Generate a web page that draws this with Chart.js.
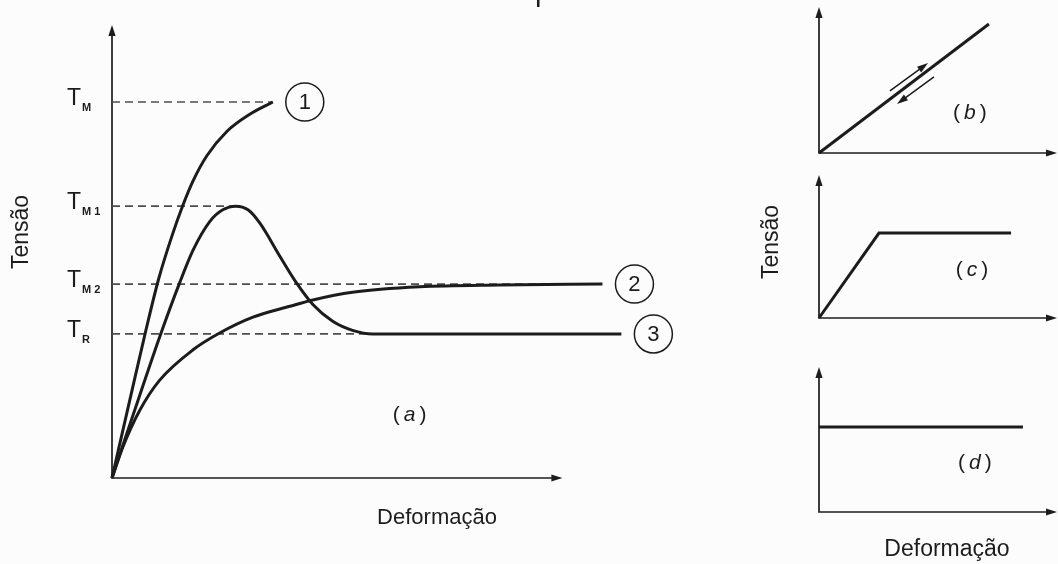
<html>
<head>
<meta charset="utf-8">
<script src="https://cdn.jsdelivr.net/npm/chart.js@4.4.3/dist/chart.umd.min.js"></script>
<style>
    body { margin: 0; background: #fcfcfc; }
    #wrap { position: relative; width: 1058px; height: 564px; overflow: hidden; }
    canvas { position: absolute; }
</style>
</head>
<body>
<div id="wrap">
    <canvas id="chartA" width="740" height="564" style="left:0;top:0"></canvas>
    <canvas id="chartB" width="318" height="165" style="left:740px;top:0"></canvas>
    <canvas id="chartC" width="318" height="170" style="left:740px;top:165px"></canvas>
    <canvas id="chartD" width="318" height="229" style="left:740px;top:335px"></canvas>
</div>
<script>
    // (a) stress vs deformation, arbitrary units (axis arrows sit at 10)
    const deform1 = [0, 0.40, 0.75, 1.04, 1.33, 1.57, 1.80, 2.11, 2.55, 3.06, 3.57];
    const stress1 = [0, 1.74, 3.25, 4.41, 5.34, 6.01, 6.56, 7.12, 7.65, 8.03, 8.30];

    const deform2 = [0, 0.24, 0.62, 1.06, 1.80, 2.39, 3.13, 3.95, 4.46, 5.34, 6.83, 8.60, 10.89];
    const stress2 = [0, 0.68, 1.50, 2.16, 2.83, 3.20, 3.55, 3.79, 3.93, 4.10, 4.22, 4.26, 4.28];

    const deform3 = [0, 0.24, 0.62, 1.06, 1.51, 1.80, 2.17, 2.46, 2.75, 3.02, 3.28, 3.73, 4.10, 4.46, 4.90, 5.34, 5.79, 11.31];
    const stress3 = [0, 0.72, 1.84, 3.12, 4.33, 5.03, 5.66, 5.92, 6.00, 5.92, 5.63, 4.89, 4.30, 3.83, 3.46, 3.26, 3.18, 3.18];

    // reference stress levels T_M, T_M1, T_M2, T_R and where their dashed lines stop
    const levelNames = ['M', 'M 1', 'M 2', 'R'];
    const levelValues = [8.30, 6.00, 4.28, 3.18];
    const levelEnds = [3.57, 2.75, 10.89, 5.79];

    // (b) (c) (d) small sketches
    const deformB = [0, 7.14];
    const stressB = [0, 8.84];
    const deformC = [0, 2.52, 8.07];
    const stressC = [0, 5.94, 5.94];
    const deformD = [0, 8.57];
    const stressD = [5.86, 5.86];

    const FONT = "'Liberation Sans', Arial, sans-serif";
    const INK = '#1c1c1c';
    Chart.defaults.font.family = FONT;

    const xy = (xs, ys) => xs.map((v, i) => ({x: v, y: ys[i]}));

    function arrowHead(ctx, x, y, ang, len, half) {
        ctx.save();
        ctx.translate(x, y);
        ctx.rotate(ang);
        ctx.beginPath();
        ctx.moveTo(0, 0);
        ctx.lineTo(-len, -half);
        ctx.lineTo(-len, half);
        ctx.closePath();
        ctx.fill();
        ctx.restore();
    }

    // axis lines with arrow tips, drawn from the scales
    const arrowAxes = {
        id: 'arrowAxes',
        beforeDatasetsDraw(chart, args, opts) {
            const {ctx, scales: {x, y}} = chart;
            const x0 = x.getPixelForValue(0), y0 = y.getPixelForValue(0);
            const xe = x.getPixelForValue(opts.xEnd), ye = y.getPixelForValue(opts.yEnd);
            ctx.save();
            ctx.strokeStyle = INK;
            ctx.fillStyle = INK;
            ctx.lineWidth = 1.7;
            ctx.beginPath();
            ctx.moveTo(x0, ye + 6);
            ctx.lineTo(x0, y0);
            ctx.lineTo(xe - 6, y0);
            ctx.stroke();
            arrowHead(ctx, xe, y0, 0, 11, 3.6);
            arrowHead(ctx, x0, ye, -Math.PI / 2, 11, 3.6);
            ctx.restore();
        }
    };

    function parenLabel(ctx, letter, cx, cy, size) {
        const up = size + 'px ' + FONT, it = 'italic ' + size + 'px ' + FONT;
        ctx.save();
        ctx.fillStyle = INK;
        ctx.textAlign = 'left';
        ctx.textBaseline = 'middle';
        ctx.font = up;
        const wp = ctx.measureText('(').width;
        ctx.font = it;
        const wl = ctx.measureText(letter).width;
        const gap = 4;
        let px = cx - (wp * 2 + wl + gap * 2) / 2;
        ctx.font = up; ctx.fillText('(', px, cy); px += wp + gap;
        ctx.font = it; ctx.fillText(letter, px, cy); px += wl + gap;
        ctx.font = up; ctx.fillText(')', px, cy);
        ctx.restore();
    }

    function rotatedText(ctx, text, cx, cy, size) {
        ctx.save();
        ctx.translate(cx, cy);
        ctx.rotate(-Math.PI / 2);
        ctx.font = size + 'px ' + FONT;
        ctx.fillStyle = INK;
        ctx.textAlign = 'center';
        ctx.textBaseline = 'middle';
        ctx.fillText(text, 0, 0);
        ctx.restore();
    }

    function plainText(ctx, text, cx, cy, size) {
        ctx.save();
        ctx.font = size + 'px ' + FONT;
        ctx.fillStyle = INK;
        ctx.textAlign = 'center';
        ctx.textBaseline = 'middle';
        ctx.fillText(text, cx, cy);
        ctx.restore();
    }

    const curves = [[deform1, stress1, '1'], [deform2, stress2, '2'], [deform3, stress3, '3']];

    const mainLabels = {
        id: 'mainLabels',
        afterDraw(chart) {
            const {ctx, scales: {x, y}} = chart;
            ctx.save();
            ctx.fillStyle = INK;
            ctx.strokeStyle = INK;
            // T with subscript at each level
            levelNames.forEach((name, i) => {
                const py = y.getPixelForValue(levelValues[i]);
                ctx.textAlign = 'left';
                ctx.textBaseline = 'alphabetic';
                ctx.font = '23px ' + FONT;
                ctx.fillText('T', 67, py + 3);
                const w = ctx.measureText('T').width;
                ctx.font = 'bold 11px ' + FONT;
                ctx.fillText(name, 67 + w + 1, py + 9);
            });
            // circled curve numbers after the curve ends
            curves.forEach(([dx, sy, tag]) => {
                const px = x.getPixelForValue(dx[dx.length - 1]) + 32;
                const py = y.getPixelForValue(sy[sy.length - 1]);
                ctx.beginPath();
                ctx.arc(px, py, 19, 0, Math.PI * 2);
                ctx.lineWidth = 1.5;
                ctx.stroke();
                ctx.font = '22px ' + FONT;
                ctx.textAlign = 'center';
                ctx.textBaseline = 'middle';
                ctx.fillText(tag, px, py + 1);
            });
            // small mark cut off at the top border
            ctx.fillRect(537, 0, 2.5, 7);
            ctx.restore();
            parenLabel(ctx, 'a', x.getPixelForValue(6.61), y.getPixelForValue(1.39), 21);
            rotatedText(ctx, 'Tensão', 22, 232, 23);
            plainText(ctx, 'Deformação', 437, 518, 22);
        }
    };

    const curveStyle = {
        borderColor: INK, borderWidth: 3, pointRadius: 0,
        cubicInterpolationMode: 'monotone', fill: false, clip: false, order: 1
    };

    new Chart(document.getElementById('chartA'), {
        type: 'line',
        data: {
            datasets: [
                {...curveStyle, label: '1', data: xy(deform1, stress1)},
                {...curveStyle, label: '2', data: xy(deform2, stress2)},
                {...curveStyle, label: '3', data: xy(deform3, stress3)},
                ...levelValues.map((v, i) => ({
                    label: 'T ' + levelNames[i],
                    data: [{x: 0, y: v}, {x: levelEnds[i], y: v}],
                    borderColor: '#4d4d4d', borderWidth: 1.7, borderDash: [8, 5],
                    pointRadius: 0, clip: false, order: 2
                }))
            ]
        },
        options: {
            responsive: false, animation: false, events: [],
            layout: {padding: {left: 112, right: 20, top: 25, bottom: 86}},
            scales: {
                x: {type: 'linear', display: false, min: 0, max: 13.5},
                y: {type: 'linear', display: false, min: 0, max: 10}
            },
            plugins: {legend: {display: false}, tooltip: {enabled: false}, arrowAxes: {xEnd: 10, yEnd: 10}}
        },
        plugins: [arrowAxes, mainLabels]
    });

    // load / unload arrows next to the line in (b)
    const loadArrows = [
        {from: [2.98, 4.25], to: [4.58, 6.16]},
        {from: [4.83, 5.21], to: [3.28, 3.36]}
    ];

    function smallPanel(id, xs, ys, pad, letter, letterAt, extraDraw) {
        const labels = {
            id: 'panelLabels',
            afterDraw(chart) {
                const {ctx, scales: {x, y}} = chart;
                parenLabel(ctx, letter, x.getPixelForValue(letterAt[0]), y.getPixelForValue(letterAt[1]), 21);
                if (extraDraw) extraDraw(chart);
            }
        };
        new Chart(document.getElementById(id), {
            type: 'line',
            data: {
                datasets: [{
                    label: letter, data: xy(xs, ys), borderColor: INK, borderWidth: 3,
                    pointRadius: 0, tension: 0, clip: false
                }]
            },
            options: {
                responsive: false, animation: false, events: [],
                layout: {padding: pad},
                scales: {
                    x: {type: 'linear', display: false, min: 0, max: 10},
                    y: {type: 'linear', display: false, min: 0, max: 10}
                },
                plugins: {legend: {display: false}, tooltip: {enabled: false}, arrowAxes: {xEnd: 10, yEnd: 10}}
            },
            plugins: [arrowAxes, labels]
        });
    }

    smallPanel('chartB', deformB, stressB, {left: 79, right: 1, top: 7, bottom: 12}, 'b', [6.34, 2.74], chart => {
        const {ctx, scales: {x, y}} = chart;
        ctx.save();
        ctx.strokeStyle = INK;
        ctx.fillStyle = INK;
        ctx.lineWidth = 1.5;
        loadArrows.forEach(a => {
            const x1 = x.getPixelForValue(a.from[0]), y1 = y.getPixelForValue(a.from[1]);
            const x2 = x.getPixelForValue(a.to[0]), y2 = y.getPixelForValue(a.to[1]);
            const ang = Math.atan2(y2 - y1, x2 - x1);
            ctx.beginPath();
            ctx.moveTo(x1, y1);
            ctx.lineTo(x2 - Math.cos(ang) * 6, y2 - Math.sin(ang) * 6);
            ctx.stroke();
            arrowHead(ctx, x2, y2, ang, 11, 3.5);
        });
        ctx.restore();
    });

    smallPanel('chartC', deformC, stressC, {left: 79, right: 1, top: 10, bottom: 17}, 'c', [6.43, 3.36], chart => {
        rotatedText(chart.ctx, 'Tensão', 32, 77, 23);
    });

    smallPanel('chartD', deformD, stressD, {left: 79, right: 1, top: 32, bottom: 52}, 'd', [6.55, 3.38], chart => {
        plainText(chart.ctx, 'Deformação', 207, 215, 23);
    });
</script>
</body>
</html>
